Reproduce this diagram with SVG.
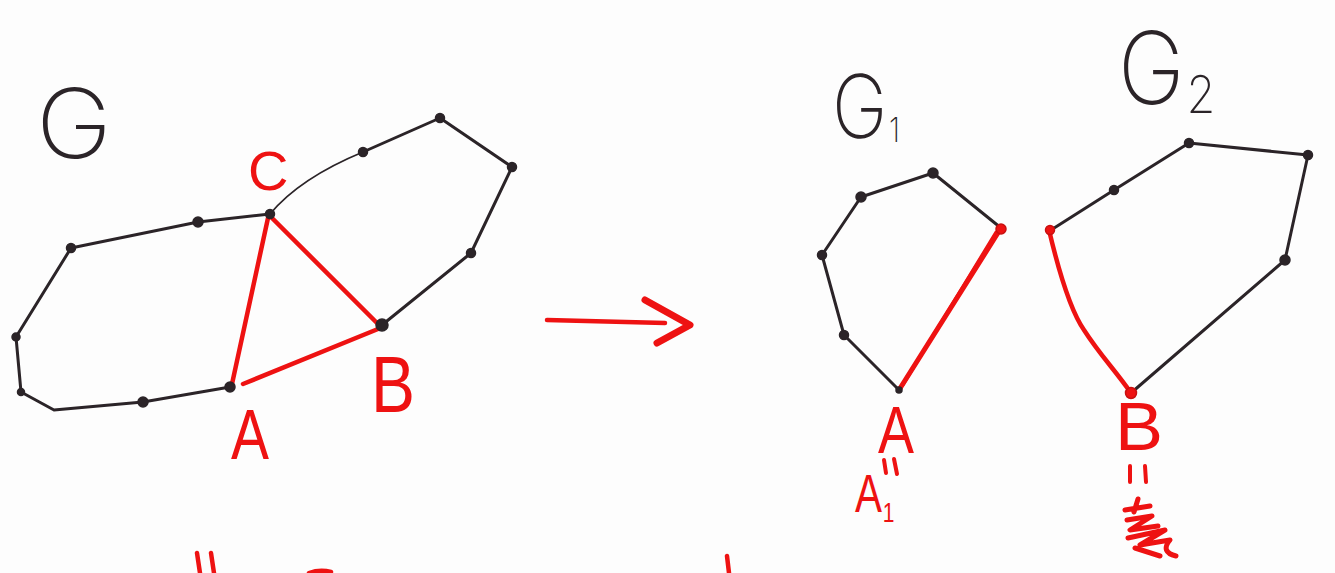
<svg xmlns="http://www.w3.org/2000/svg" width="1335" height="573" viewBox="0 0 1335 573">
<style>
.bk{fill:none;stroke:#2b2428;stroke-width:3;stroke-linecap:round;stroke-linejoin:round}
.thin{stroke-width:1.8}
.rd{fill:none;stroke:#ee1212;stroke-width:4.5;stroke-linecap:round;stroke-linejoin:round}
.nd{fill:#2b2428;stroke:#2b2428;stroke-width:1.5}
.rnd{fill:#ee1212;stroke:#c81010;stroke-width:1.5}
.lbk{font-family:"Inter","DejaVu Sans",sans-serif;font-weight:200;fill:#2b2428}
.lrd{font-family:"Liberation Sans","DejaVu Sans",sans-serif;fill:#ee1212}
</style>
<rect width="1335" height="573" fill="#fdfdfd"/>
<g id="connectors">
  <polyline class="bk" points="230,387 143,402 54,410 21,392 16,337 71,248 198,222 270,214"/>
  <path class="bk thin" d="M270,214 Q300,178 363,152"/>
  <polyline class="bk" points="363,152 440,118 512,167 471,253 382,325"/>
  <line class="rd" x1="232" y1="384" x2="268" y2="218"/>
  <line class="rd" x1="270" y1="216" x2="380" y2="326"/>
  <line class="rd" x1="243" y1="384" x2="378" y2="329"/>
  <line class="rd" x1="547" y1="320" x2="665" y2="323"/>
  <polyline class="rd" style="stroke-width:7" points="645,300 690,325 657,343"/>
  <polyline class="bk" points="899,390 844,335 822,255 861,197 933,173 1001,228"/>
  <line class="rd" style="stroke-width:5" x1="1001" y1="228" x2="899" y2="390"/>
  <line class="rd" style="stroke-width:3" x1="996" y1="232" x2="903" y2="385"/>
  <polyline class="bk" points="1051,230 1114,190 1189,143 1308,155 1285,260 1131,393"/>
  <path class="rd" d="M1049,230 C1058,268 1070,310 1084,330 C1100,355 1115,370 1131,393"/>
  <path class="rd" d="M197,553 L200,573 M211,553 L214,573 M309,573 Q320,569 331,572 M727,556 L729,573"/>
</g>
<g id="label-G"><text class="lbk" x="36" y="158" font-size="96" textLength="76" lengthAdjust="spacingAndGlyphs">G</text></g>
<g id="node-C"><circle class="nd" cx="270" cy="214" r="4.5"/><text class="lrd" x="248" y="190" font-size="56">C</text></g>
<g id="node-A"><circle class="nd" cx="230" cy="387" r="5"/><text class="lrd" x="231" y="459" font-size="70" textLength="38" lengthAdjust="spacingAndGlyphs">A</text></g>
<g id="node-B"><circle class="nd" cx="382" cy="325" r="6"/><text class="lrd" x="371" y="412" font-size="80" textLength="44" lengthAdjust="spacingAndGlyphs">B</text></g>
<g id="node-l1"><circle class="nd" cx="143" cy="402" r="5"/></g>
<g id="node-l2"><circle class="nd" cx="21" cy="392" r="3.5"/></g>
<g id="node-l3"><circle class="nd" cx="16" cy="337" r="4"/></g>
<g id="node-l4"><circle class="nd" cx="71" cy="248" r="4.5"/></g>
<g id="node-l5"><circle class="nd" cx="198" cy="222" r="5"/></g>
<g id="node-r1"><circle class="nd" cx="363" cy="152" r="4.5"/></g>
<g id="node-r2"><circle class="nd" cx="440" cy="118" r="4.5"/></g>
<g id="node-r3"><circle class="nd" cx="512" cy="167" r="4.5"/></g>
<g id="node-r4"><circle class="nd" cx="471" cy="253" r="4.5"/></g>
<g id="label-G1"><text class="lbk" transform="translate(832,138) scale(0.85,1)" font-size="88">G<tspan font-size="34" dx="2" dy="4">1</tspan></text></g>
<g id="label-G2"><text class="lbk" transform="translate(1118,104) scale(0.9,1)" font-size="100">G<tspan font-size="52" dx="2" dy="9">2</tspan></text></g>
<g id="node-g1a"><circle class="nd" cx="899" cy="390" r="3"/></g>
<g id="node-g1b"><circle class="nd" cx="844" cy="335" r="4.5"/></g>
<g id="node-g1c"><circle class="nd" cx="822" cy="255" r="4.5"/></g>
<g id="node-g1d"><circle class="nd" cx="861" cy="197" r="5"/></g>
<g id="node-g1e"><circle class="nd" cx="933" cy="173" r="5"/></g>
<g id="node-g1f"><circle class="rnd" cx="1001" cy="229" r="5"/></g>
<g id="node-g2a"><circle class="rnd" cx="1050" cy="230" r="4.5"/></g>
<g id="node-g2b"><circle class="nd" cx="1114" cy="190" r="4.5"/></g>
<g id="node-g2c"><circle class="nd" cx="1189" cy="143" r="4.5"/></g>
<g id="node-g2d"><circle class="nd" cx="1308" cy="155" r="4.5"/></g>
<g id="node-g2e"><circle class="nd" cx="1285" cy="260" r="5"/></g>
<g id="node-g2f"><circle class="rnd" cx="1131" cy="393" r="5.5"/></g>
<g id="label-A-right">
  <text class="lrd" x="878" y="453" font-size="66" textLength="36" lengthAdjust="spacingAndGlyphs">A</text>
  <path class="rd" style="stroke-width:4" d="M884,460 L886,473 M894,459 L897,474"/>
  <text class="lrd" transform="translate(855,512) scale(0.75,1)" font-size="54">A<tspan font-size="28" dx="1" dy="10">1</tspan></text>
</g>
<g id="label-B-right">
  <text class="lrd" x="1115" y="450" font-size="68" textLength="48" lengthAdjust="spacingAndGlyphs">B</text>
  <path class="rd" style="stroke-width:4" d="M1130,466 L1130,482 M1145,466 L1146,482"/>
  <path class="rd" style="stroke-width:5" d="M1138,499 L1134,512 M1125,510 L1150,506 M1127,520 L1152,516 L1130,530 L1158,526 M1128,538 L1165,530 L1140,545 L1170,540 Q1160,552 1176,556 M1135,548 L1160,556"/>
</g>
</svg>
